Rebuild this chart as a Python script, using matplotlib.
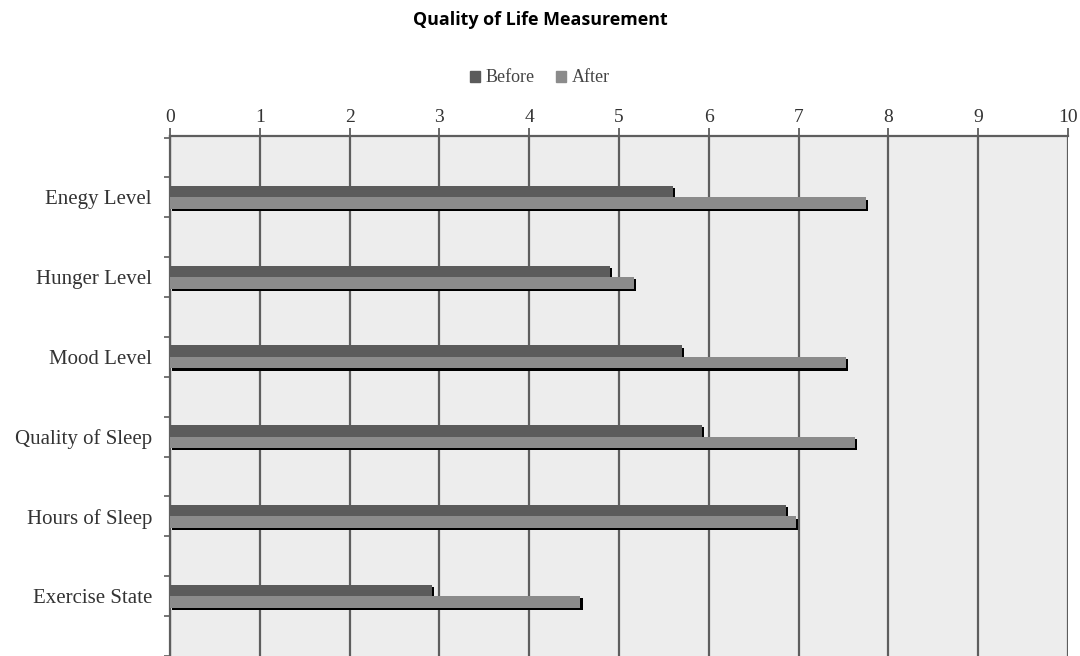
import matplotlib
matplotlib.use("Agg")
import matplotlib.pyplot as plt
import matplotlib.patheffects as pe
from matplotlib.patches import Patch
import numpy as np

# Data
categories = ["Enegy Level", "Hunger Level", "Mood Level",
              "Quality of Sleep", "Hours of Sleep", "Exercise State"]
before = [5.6, 4.9, 5.7, 5.92, 6.86, 2.92]
after = [7.75, 5.17, 7.53, 7.63, 6.97, 4.57]

c_before = "#5b5b5b"
c_after = "#8b8b8b"
grid_c = "#5e5e5e"
serif = "Liberation Serif"

fig = plt.figure(figsize=(10.8, 6.56), dpi=100)
ax = fig.add_axes([170 / 1080, 0.0, (1068 - 170) / 1080, (656 - 136) / 656])
ax.set_facecolor("#ededed")

y = np.arange(len(categories))
h = 0.145
shadow = [pe.SimplePatchShadow(offset=(1.6, -1.6), shadow_rgbFace="black", alpha=1.0), pe.Normal()]

ax.barh(y - h / 2, before, height=h, color=c_before, path_effects=shadow, zorder=3)
ax.barh(y + h / 2, after, height=h, color=c_after, path_effects=shadow, zorder=4)

ax.set_xlim(0, 10)
ax.set_ylim(5.71, -0.77)
ax.xaxis.tick_top()
ax.set_xticks(range(0, 11))
ax.set_xticklabels([str(i) for i in range(0, 11)], fontfamily=serif,
                   fontsize=14, color="#333333")
ax.tick_params(axis="x", direction="out", length=6, width=1.3, color=grid_c, pad=1)

ax.set_yticks(y)
ax.set_yticklabels(categories, fontfamily=serif, fontsize=15, color="#333333")
ax.set_yticks(np.arange(-0.75, 5.8, 0.5), minor=True)
ax.tick_params(axis="y", which="major", length=0, pad=13)
ax.tick_params(axis="y", which="minor", direction="out", length=4, width=1.2, color=grid_c)

ax.grid(axis="x", color=grid_c, linewidth=1.6, zorder=1)
ax.set_axisbelow(True)
for s in ["right", "bottom"]:
    ax.spines[s].set_visible(False)
for s in ["left", "top"]:
    ax.spines[s].set_color(grid_c)
    ax.spines[s].set_linewidth(1.6)

fig.text(0.5, 1 - 20 / 656, "Quality of Life Measurement", ha="center", va="center",
         fontfamily="Open Sans", fontweight="bold", fontsize=12.9)

handles = [Patch(color=c_before, label="Before"), Patch(color=c_after, label="After")]
fig.legend(handles=handles, loc="center", bbox_to_anchor=(0.5, 1 - 78 / 656), ncol=2,
           frameon=False, prop={"family": serif, "size": 13}, handlelength=0.55,
           handleheight=0.55, handletextpad=0.3, columnspacing=1.2, labelcolor="#444444")

fig.savefig("out.png", dpi=100)
